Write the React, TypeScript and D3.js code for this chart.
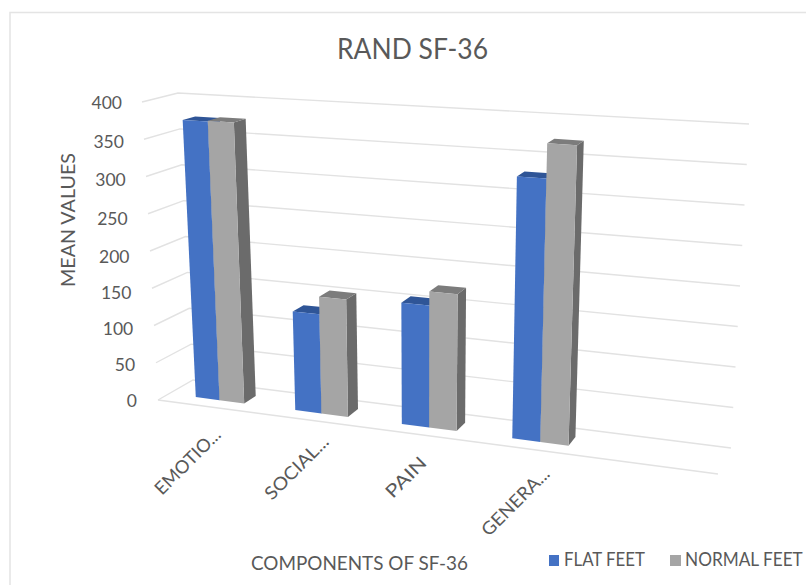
import React from "react";
import * as d3 from "d3";

const categories = ["EMOTIO...", "SOCIAL...", "PAIN", "GENERA..."];
const flatFeet = [374, 130, 156, 329];
const normalFeet = [375, 153, 174, 373];
const yTicks = [0, 50, 100, 150, 200, 250, 300, 350, 400];
const BLUE = { front: "#4472C4", top: "#2F5597", side: "#2F5597" };
const GRAY = { front: "#A5A5A5", top: "#7C7C7C", side: "#6B6B6B" };
const TEXT = "#595959";
const FONT = "Lato, 'Open Sans', sans-serif";

// wall corners of the box: front/back, left/right, floor/top
const FLF = [158, 400], FLT = [142, 102];
const FRF = [718, 474], FRT = [737, 137];
const BLF = [193, 380], BLT = [178, 93];
const BRF = [731, 448], BRT = [749, 124];

const vFrac = d3.scaleLinear().domain([0, 400]).range([0, 1]);
const uFrac = d3.scalePow().exponent(1.08).domain([0, 5.15]).range([0, 1]);
const lerp = d3.interpolateNumber;

function project(u: number, w: number, value: number): [number, number] {
  const v = vFrac(value);
  const out: number[] = [0, 1].map((k) => {
    const fl = lerp(FLF[k], FLT[k])(v);
    const fr = lerp(FRF[k], FRT[k])(v);
    const bl = lerp(BLF[k], BLT[k])(v);
    const br = lerp(BRF[k], BRT[k])(v);
    return lerp(lerp(fl, fr)(u), lerp(bl, br)(u))(w);
  });
  return [out[0], out[1]];
}

const path = (pts: [number, number][]) => d3.line()(pts) + "Z";
const BAR_W = 0.25;
const SLOT0 = 0.31;
const W0 = 0.32;
const W1 = 0.68;

function Bar({ slot, value, c }: { slot: number; value: number; c: typeof BLUE }) {
  const a = uFrac(slot);
  const b = uFrac(slot + BAR_W);
  return (
    <g>
      <path d={path([project(b, W0, 0), project(b, W1, 0), project(b, W1, value), project(b, W0, value)])} fill={c.side} />
      <path d={path([project(a, W0, value), project(b, W0, value), project(b, W1, value), project(a, W1, value)])} fill={c.top} />
      <path d={path([project(a, W0, 0), project(b, W0, 0), project(b, W0, value), project(a, W0, value)])} fill={c.front} />
    </g>
  );
}

const tickX = d3.scaleLinear().domain([0, 400]).range([137, 122]);
const tickY = d3.scaleLinear().domain([0, 200, 400]).range([401, 257, 103]);
const labelAnchors: [number, number][] = [[222, 436], [330, 443], [428, 464], [551, 475]];
const labelLengths = [85, 82, 50, 88];

export default function App() {
  const grid = "#E2E2E2";
  return (
    <svg width={806} height={585} style={{ position: "absolute", left: 0, top: 0, display: "block", background: "#fff" }} fontFamily={FONT}>
      <path d="M10 585V12.5H806" fill="none" stroke="#E4E4E4" strokeWidth={1.5} />
      <text x={412.5} y={59} textAnchor="middle" fontSize={29} fill={TEXT} textLength={151} lengthAdjust="spacingAndGlyphs">RAND SF-36</text>

      {yTicks.map((t) => {
        const a = project(0, 0, t), b = project(0, 1, t), c = project(1, 1, t);
        return <polyline key={t} points={[a, b, c].join(" ")} fill="none" stroke={grid} strokeWidth={1.4} />;
      })}
      <line x1={FLF[0]} y1={FLF[1]} x2={FRF[0]} y2={FRF[1]} stroke={grid} strokeWidth={1.4} />

      {categories.map((_, i) => (
        <g key={i}>
          <Bar slot={i + SLOT0} value={flatFeet[i]} c={BLUE} />
          <Bar slot={i + SLOT0 + BAR_W} value={normalFeet[i]} c={GRAY} />
        </g>
      ))}

      {yTicks.map((t) => (
        <text key={t} x={tickX(t)} y={tickY(t)} dy="0.36em" textAnchor="end" fontSize={17.5} fill={TEXT}>{t}</text>
      ))}
      <text transform="translate(75,220) rotate(-90)" textAnchor="middle" fontSize={19} fill={TEXT} textLength={134} lengthAdjust="spacingAndGlyphs">MEAN VALUES</text>

      {categories.map((c, i) => (
        <text key={c} transform={`translate(${labelAnchors[i][0]},${labelAnchors[i][1]}) rotate(-45)`} textAnchor="end" fontSize={18} fill={TEXT} textLength={labelLengths[i]} lengthAdjust="spacingAndGlyphs">{c}</text>
      ))}

      <text x={359.5} y={570} textAnchor="middle" fontSize={19} fill={TEXT} textLength={217} lengthAdjust="spacingAndGlyphs">COMPONENTS OF SF-36</text>
      <rect x={549} y={555} width={10} height={11} fill={BLUE.front} />
      <text x={564} y={566} fontSize={19} fill={TEXT} textLength={81} lengthAdjust="spacingAndGlyphs">FLAT FEET</text>
      <rect x={670} y={555} width={11} height={11} fill={GRAY.front} />
      <text transform="translate(685,566) scale(0.93,1)" fontSize={18.5} fill={TEXT}>NORMAL FEET</text>
    </svg>
  );
}
